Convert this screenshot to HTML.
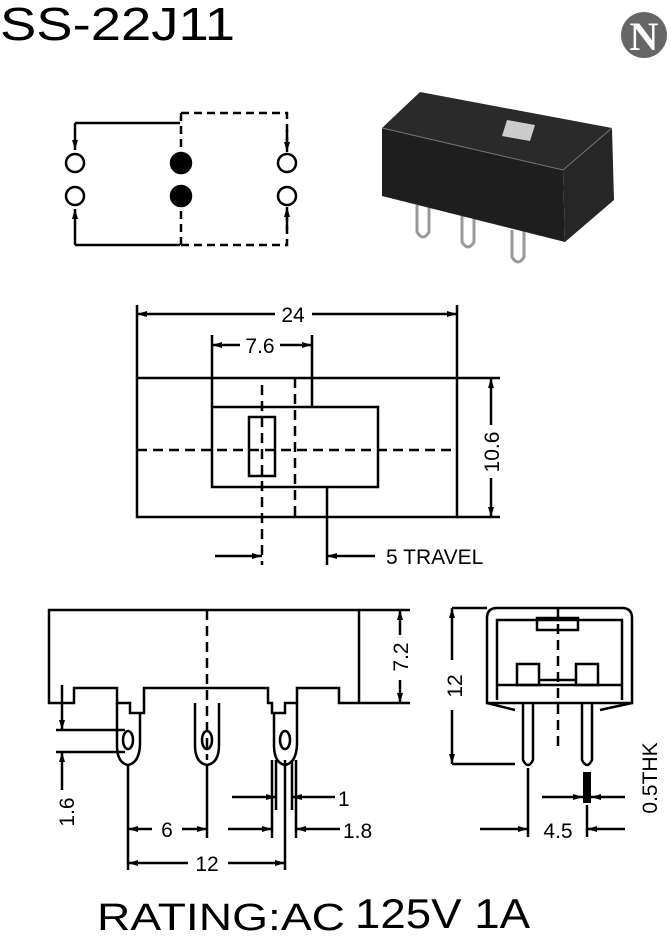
<!DOCTYPE html>
<html><head><meta charset="utf-8"><style>
html,body{margin:0;padding:0;background:#fff;}
svg{display:block;}
text{font-family:"Liberation Sans",Arial,sans-serif;fill:#000;}
</style></head><body>
<svg width="671" height="937" viewBox="0 0 671 937" xmlns="http://www.w3.org/2000/svg">
<defs>
<marker id="a" viewBox="0 0 10 6" refX="10" refY="3" markerWidth="10" markerHeight="6" orient="auto" markerUnits="userSpaceOnUse"><path d="M0,0 L10,3 L0,6 Z" fill="#000"/></marker>
</defs>
<text x="0" y="40" font-size="46" textLength="235" lengthAdjust="spacingAndGlyphs">SS-22J11</text>
<circle cx="644" cy="35" r="23" fill="#666"/>
<text x="644" y="50" font-size="40" font-weight="bold" text-anchor="middle" style="fill:#fff;font-family:'Liberation Serif',serif">N</text>

<!-- schematic -->
<g stroke="#000" stroke-width="2.5" fill="none">
<path d="M75,123 H180"/>
<path d="M75,123 V150" marker-end="url(#a)"/>
<path d="M75,245 H180"/>
<path d="M75,245 V209" marker-end="url(#a)"/>
<path d="M181,113 H287 V150" stroke-dasharray="8,5"/>
<path d="M181,113 V150" stroke-dasharray="8,5"/>
<path d="M181,245 H287 V209" stroke-dasharray="8,5"/>
<path d="M181,245 V209" stroke-dasharray="8,5"/>
<path d="M287,130 V152" marker-end="url(#a)"/>
<path d="M287,230 V207" marker-end="url(#a)"/>
<circle cx="75" cy="163" r="9" fill="#fff"/><circle cx="75" cy="196" r="9" fill="#fff"/>
<circle cx="287" cy="163" r="9" fill="#fff"/><circle cx="287" cy="196" r="9" fill="#fff"/>
<circle cx="181" cy="163" r="10" fill="#000"/><circle cx="181" cy="196" r="10" fill="#000"/>
</g>

<!-- photo -->
<g>
<path d="M417,205 V232 q6,10 12,0 V205" stroke="#999" stroke-width="3" fill="none"/>
<path d="M462,215 V242 q6,10 12,0 V215" stroke="#999" stroke-width="3" fill="none"/>
<path d="M512,230 V257 q6,10 12,0 V230" stroke="#999" stroke-width="3" fill="none"/>
<path d="M382,128 L420,92 L612,128 L563,170 Z" fill="#2a2a2a"/>
<path d="M382,128 L563,170 L565,242 L382,196 Z" fill="#1e1e1e"/>
<path d="M563,170 L612,128 L614,200 L565,242 Z" fill="#262626"/>
<path d="M382,128 L563,170 L612,128" stroke="#777" stroke-width="1" fill="none"/>
<path d="M507,120 L535,125 L530,141 L502,136 Z" fill="#ccc"/>
</g>

<!-- top view -->
<g stroke="#000" stroke-width="2.5" fill="none">
<rect x="137" y="378" width="320" height="139"/>
<rect x="212" y="407" width="166" height="80"/>
<rect x="249" y="417" width="26" height="59"/>
<path d="M137,450 H457" stroke-dasharray="10,6"/>
<path d="M262,385 V565" stroke-dasharray="10,6"/>
<path d="M295,378 V517" stroke-dasharray="10,6"/>
<path d="M137,305 V378 M457,305 V378 M212,335 V407 M312,335 V407"/>
<path d="M275,314 H137" marker-end="url(#a)"/><path d="M312,314 H457" marker-end="url(#a)"/>
<path d="M240,345 H212" marker-end="url(#a)"/><path d="M280,345 H312" marker-end="url(#a)"/>
<path d="M457,378 H500 M457,517 H500"/>
<path d="M491,425 V378" marker-end="url(#a)"/><path d="M491,478 V517" marker-end="url(#a)"/>
<path d="M327,487 V565"/>
<path d="M215,556 H262" marker-end="url(#a)"/><path d="M375,556 H327" marker-end="url(#a)"/>
</g>
<text x="293" y="322" font-size="21" text-anchor="middle">24</text>
<text x="260" y="353" font-size="21" text-anchor="middle">7.6</text>
<text transform="translate(499,452) rotate(-90)" font-size="21" text-anchor="middle">10.6</text>
<text x="386" y="564" font-size="21">5 TRAVEL</text>

<!-- side view -->
<g stroke="#000" stroke-width="2.5" fill="none">
<path d="M359,703 V610 H49 V703 H74 V688 H117 V703 H130 V713 H144 V688 H268 V703 H272 V713 H285 V703 H297 V688 H339 V703 H359"/>
<path d="M207,610 V760" stroke-dasharray="10,6"/>
<path d="M117,703 V745 q0,18 11,20 q11,-2 12,-20 V713"/>
<path d="M195,703 V745 q0,18 12,20 q12,-2 12,-20 V703"/>
<path d="M274,713 V745 q0,18 11,20 q11,-2 12,-20 V703"/>
<ellipse cx="128" cy="740" rx="5" ry="9"/>
<ellipse cx="207" cy="740" rx="5" ry="9"/>
<ellipse cx="285" cy="740" rx="5" ry="9"/>
<path d="M56,730 H125 M56,752 H125"/>
<path d="M62,685 V730" marker-end="url(#a)"/><path d="M62,790 V752" marker-end="url(#a)"/>
<path d="M128,765 V870 M207,765 V838 M285,760 V870"/>
<path d="M276,760 V810 M292,760 V810 M272,760 V838 M296,760 V838"/>
<path d="M152,829 H128" marker-end="url(#a)"/><path d="M182,829 H207" marker-end="url(#a)"/>
<path d="M188,863 H128" marker-end="url(#a)"/><path d="M228,863 H285" marker-end="url(#a)"/>
<path d="M232,797 H276" marker-end="url(#a)"/><path d="M335,797 H292" marker-end="url(#a)"/>
<path d="M228,829 H272" marker-end="url(#a)"/><path d="M340,829 H296" marker-end="url(#a)"/>
<path d="M359,610 H410 M359,703 H410"/>
<path d="M400,635 V610" marker-end="url(#a)"/><path d="M400,680 V703" marker-end="url(#a)"/>
</g>
<text transform="translate(74,812) rotate(-90)" font-size="21" text-anchor="middle">1.6</text>
<text x="167" y="837" font-size="21" text-anchor="middle">6</text>
<text x="207" y="871" font-size="21" text-anchor="middle">12</text>
<text x="338" y="806" font-size="21">1</text>
<text x="343" y="838" font-size="21">1.8</text>
<text transform="translate(408,657) rotate(-90)" font-size="21" text-anchor="middle">7.2</text>

<!-- end view -->
<g stroke="#000" stroke-width="2.5" fill="none">
<path d="M487,703 V618 q0,-10 10,-10 H622 q10,0 10,10 V703 Z"/>
<path d="M497,700 V620 H622 V700"/>
<rect x="537" y="618" width="41" height="12"/>
<path d="M497,685 H622"/>
<rect x="517" y="664" width="22" height="21"/>
<rect x="576" y="664" width="22" height="21"/>
<path d="M539,680 H576"/>
<path d="M558,608 V750" stroke-dasharray="10,6"/>
<path d="M487,703 L515,710 M632,703 L600,710"/>
<path d="M523,703 V760 q5,10 10,0 V703"/>
<path d="M582,703 V760 q5,10 10,0 V703"/>
<path d="M452,608 H487 M452,764 H515"/>
<path d="M452,660 V608" marker-end="url(#a)"/><path d="M452,710 V764" marker-end="url(#a)"/>
<path d="M528,768 V837 M587,805 V837"/>
<path d="M480,829 H528" marker-end="url(#a)"/><path d="M625,829 H587" marker-end="url(#a)"/>
<path d="M542,797 H583" marker-end="url(#a)"/><path d="M625,797 H591" marker-end="url(#a)"/>
</g>
<rect x="583" y="772" width="8" height="31" fill="#000"/>
<text transform="translate(462,686) rotate(-90)" font-size="21" text-anchor="middle">12</text>
<text x="558" y="838" font-size="21" text-anchor="middle">4.5</text>
<text transform="translate(657,778) rotate(-90)" font-size="21" text-anchor="middle">0.5THK</text>

<text x="97" y="930" font-size="38" textLength="248" lengthAdjust="spacingAndGlyphs">RATING:AC</text>
<text x="355" y="928" font-size="42" textLength="175" lengthAdjust="spacingAndGlyphs">125V 1A</text>
</svg>
</body></html>
